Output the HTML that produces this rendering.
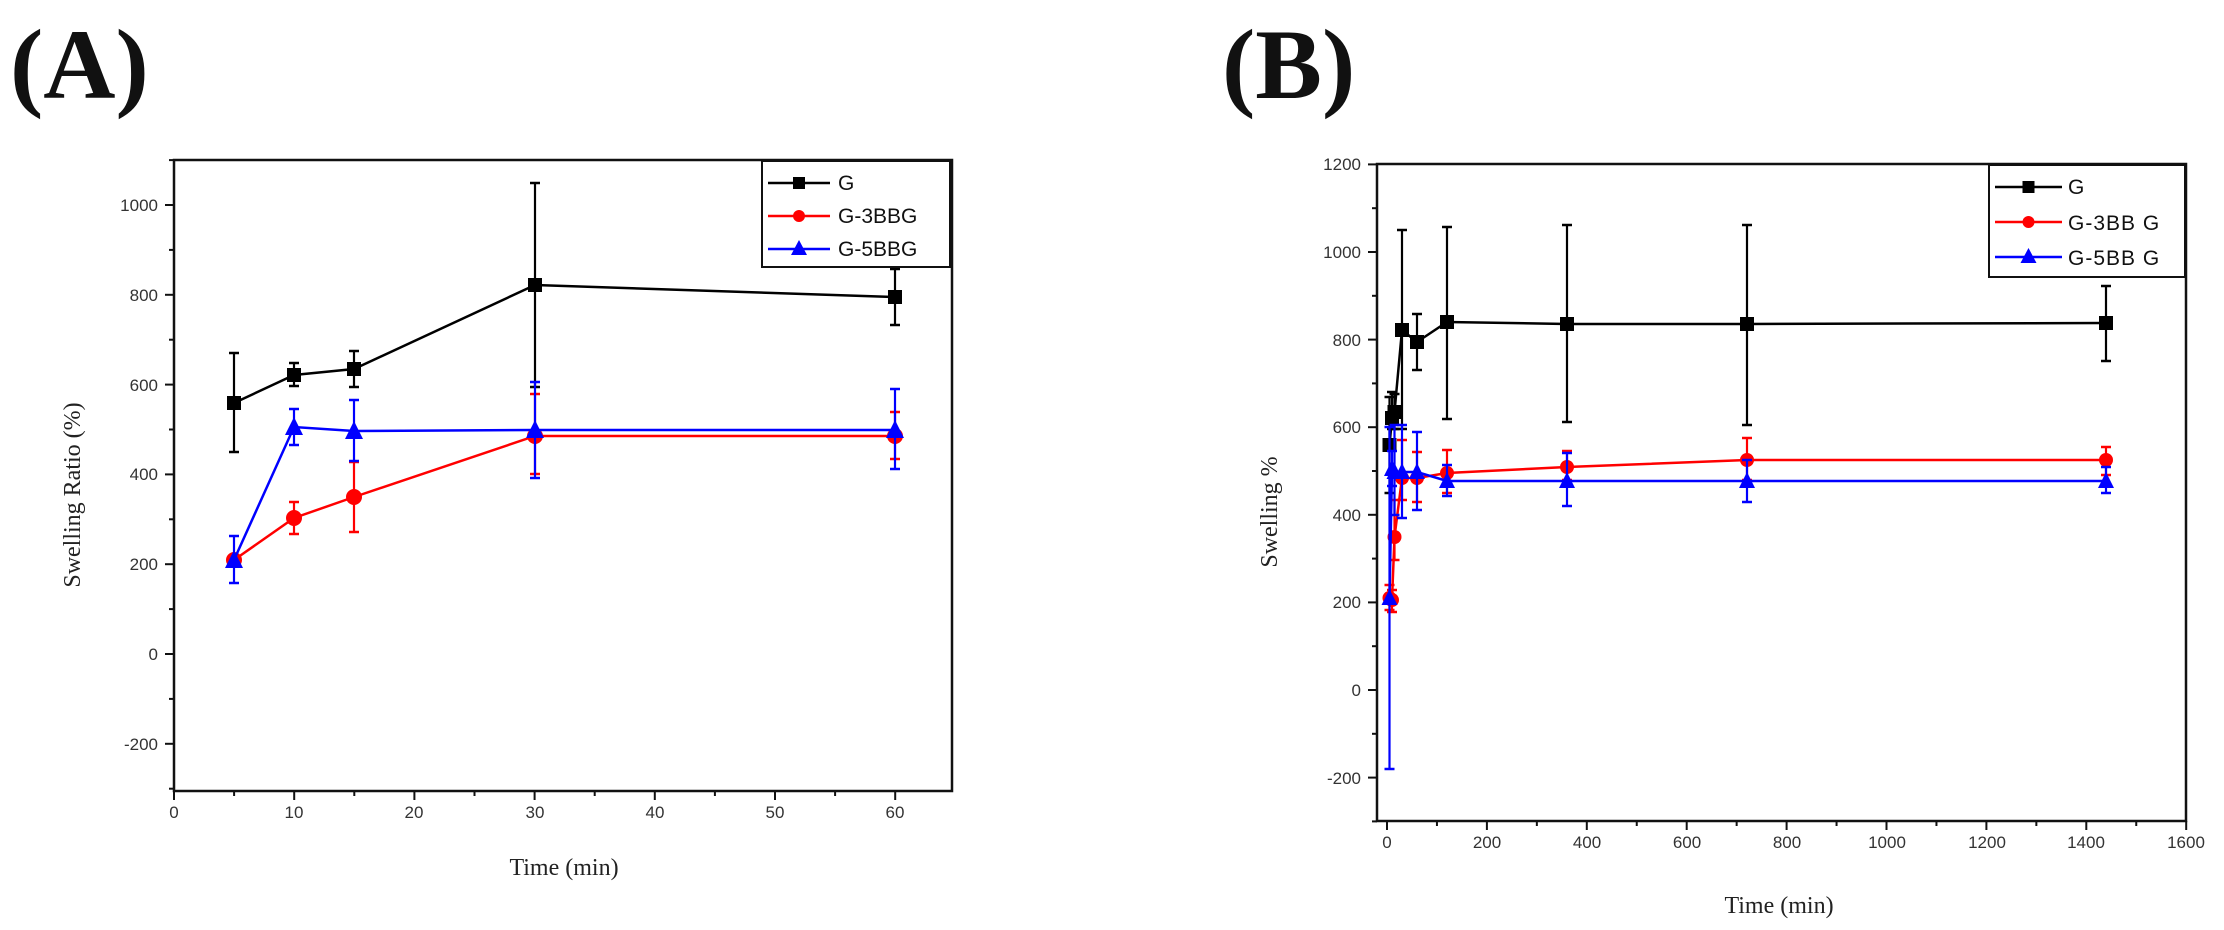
<!DOCTYPE html>
<html><head><meta charset="utf-8"><style>
html,body{margin:0;padding:0;background:#fff;}
svg{display:block;}
.tk{font-family:"Liberation Sans",sans-serif;font-size:17px;fill:#333;}
.lg{font-family:"Liberation Sans",sans-serif;font-size:21px;fill:#111;}
.ttl{font-family:"Liberation Serif",serif;font-weight:bold;font-size:100px;fill:#111;}
.al{font-family:"Liberation Serif",serif;font-size:24px;fill:#222;}
</style></head><body>
<svg id="s" width="2224" height="930" viewBox="0 0 2224 930" xmlns="http://www.w3.org/2000/svg">
<rect width="2224" height="930" fill="#fff"/>
<text class="ttl" x="10" y="98">(A)</text>
<text class="ttl" x="1222" y="98">(B)</text>
<!-- Panel A axes -->
<rect x="174" y="160" width="778" height="631" fill="none" stroke="#111" stroke-width="2.5"/>
<g class="tk" text-anchor="middle">
<text x="174" y="818">0</text><text x="294" y="818">10</text><text x="414" y="818">20</text><text x="535" y="818">30</text><text x="655" y="818">40</text><text x="775" y="818">50</text><text x="895" y="818">60</text>
</g>
<g class="tk" text-anchor="end">
<text x="158" y="750">-200</text><text x="158" y="660">0</text><text x="158" y="570">200</text><text x="158" y="480">400</text><text x="158" y="391">600</text><text x="158" y="301">800</text><text x="158" y="211">1000</text>
</g>
<text class="al" x="564" y="875" text-anchor="middle">Time (min)</text>
<text class="al" transform="translate(80,495) rotate(-90)" text-anchor="middle">Swelling Ratio (%)</text>
<!-- Panel B axes -->
<rect x="1377" y="164" width="809" height="657" fill="none" stroke="#111" stroke-width="2.5"/>
<g class="tk" text-anchor="middle">
<text x="1387" y="848">0</text><text x="1487" y="848">200</text><text x="1587" y="848">400</text><text x="1687" y="848">600</text><text x="1787" y="848">800</text><text x="1887" y="848">1000</text><text x="1987" y="848">1200</text><text x="2086" y="848">1400</text><text x="2186" y="848">1600</text>
</g>
<g class="tk" text-anchor="end">
<text x="1361" y="170">1200</text><text x="1361" y="258">1000</text><text x="1361" y="346">800</text><text x="1361" y="433">600</text><text x="1361" y="521">400</text><text x="1361" y="608">200</text><text x="1361" y="696">0</text><text x="1361" y="784">-200</text>
</g>
<text class="al" x="1779" y="913" text-anchor="middle">Time (min)</text>
<text class="al" transform="translate(1277,512) rotate(-90)" text-anchor="middle">Swelling %</text>
<g id="marks"></g>
<!-- Legends -->
<rect x="762" y="161" width="188" height="106" fill="#fff" stroke="#111" stroke-width="2"/>
<text class="lg" x="842" y="220" style="font-size:0"></text>
<text class="lg" x="838" y="190">G</text>
<text class="lg" x="838" y="223">G-3BBG</text>
<text class="lg" x="838" y="256">G-5BBG</text>
<rect x="1989" y="165" width="196" height="112" fill="#fff" stroke="#111" stroke-width="2"/>
<text class="lg" x="2068" y="194">G</text>
<text class="lg" x="2068" y="230" letter-spacing="1">G-3BB G</text>
<text class="lg" x="2068" y="265" letter-spacing="1">G-5BB G</text>
</svg>
<script>
var NS="http://www.w3.org/2000/svg",g=document.getElementById('marks'),s=document.getElementById('s');
function el(n,a,p){var e=document.createElementNS(NS,n);for(var k in a)e.setAttribute(k,a[k]);(p||g).appendChild(e);return e;}
function line(x1,y1,x2,y2,c,w){el('line',{x1:x1,y1:y1,x2:x2,y2:y2,stroke:c,'stroke-width':w||2});}
function mk(t,x,y,c,sz){sz=sz||7;
 if(t==0)el('rect',{x:x-sz,y:y-sz,width:2*sz,height:2*sz,fill:c});
 else if(t==1)el('circle',{cx:x,cy:y,r:sz,fill:c});
 else el('polygon',{points:(x)+','+(y-sz-2)+' '+(x-sz-1)+','+(y+sz)+' '+(x+sz+1)+','+(y+sz),fill:c});}
// ticks
function ticksX(x0,dx,n,yb,minor){for(var i=0;i<n;i++){var x=x0+i*dx;line(x,yb,x,yb+(i%2==0?9:5),'#111',2);}}
function ticksY(xl,ys){}
// A ticks
for(var i=0;i<=13;i++){var x=174+i*60.1;if(x>953)break;line(x,791,x,791+(i%2==0?9:5),'#111',2);}
for(var v=-300;v<=1100;v+=100){var y=654-v*0.449;line(174,y,174-(v%200==0?9:5),y,'#111',2);}
// B ticks
for(var i=0;i<=16;i++){var x=1387+i*49.95;line(x,821,x,821+(i%2==0?9:5),'#111',2);}
for(var v=-300;v<=1200;v+=100){var y=690-v*0.438;line(1377,y,1377-(v%200==0?9:5),y,'#111',2);}
function series(pts,c,t,sz){ // pts: [x,y,lo,hi]
 var d=pts.map(function(p){return p[0]+','+p[1]}).join(' ');
 el('polyline',{points:d,fill:'none',stroke:c,'stroke-width':2.5});
 pts.forEach(function(p){if(p[2]!=null){line(p[0],p[2],p[0],p[3],c,2.2);line(p[0]-5,p[2],p[0]+5,p[2],c,2.5);line(p[0]-5,p[3],p[0]+5,p[3],c,2.5);}});
 pts.forEach(function(p){mk(t,p[0],p[1],c,sz);});
}
// Panel A
series([[234,403,452,353],[294,375,386,363],[354,369,387,351],[535,285,387,183],[895,297,325,269]],'#000',0,7);
series([[234,560,null,null],[294,518,534,502],[354,497,532,462],[535,436,474,394],[895,436,459,412]],'#f00',1,8);
series([[234,560,583,536],[294,427,445,409],[354,431,461,400],[535,430,478,382],[895,430,469,389]],'#00f',2,8);
// Panel B
series([[1389.5,445,493,397],[1392,418,429,392],[1394.5,412,429,394],[1402,330,429,230],[1417,342,370,314],[1447,322,419,227],[1567,324,422,225],[1747,324,425,225],[2106,323,361,286]],'#000',0,7);
series([[1389.5,598,610,585],[1392,600,612,590],[1394.5,537,560,500],[1402,478,500,440],[1417,478,502,452],[1447,473,493,450],[1567,467,480,451],[1747,460,480,438],[2106,460,475,447]],'#f00',1,7);
series([[1389.5,598,769,427],[1392,469,486,451],[1394.5,472,515,425],[1402,472,518,425],[1417,472,510,432],[1447,481,496,465],[1567,481,506,453],[1747,481,502,460],[2106,481,493,467]],'#00f',2,7);
// legend samples (drawn on top)
var L=document.createElementNS(NS,'g');s.appendChild(L);
function leg(x1,x2,y,c,t){line.call(null,0,0,0,0,'none',0);el('line',{x1:x1,y1:y,x2:x2,y2:y,stroke:c,'stroke-width':2.5},L);var xm=(x1+x2)/2;
 if(t==0)el('rect',{x:xm-6,y:y-6,width:12,height:12,fill:c},L);else if(t==1)el('circle',{cx:xm,cy:y,r:6,fill:c},L);else el('polygon',{points:xm+','+(y-9)+' '+(xm-8)+','+(y+6)+' '+(xm+8)+','+(y+6),fill:c},L);}
leg(768,830,183,'#000',0);leg(768,830,216,'#f00',1);leg(768,830,249,'#00f',2);
leg(1995,2062,187,'#000',0);leg(1995,2062,222,'#f00',1);leg(1995,2062,257,'#00f',2);
</script>
</body></html>
